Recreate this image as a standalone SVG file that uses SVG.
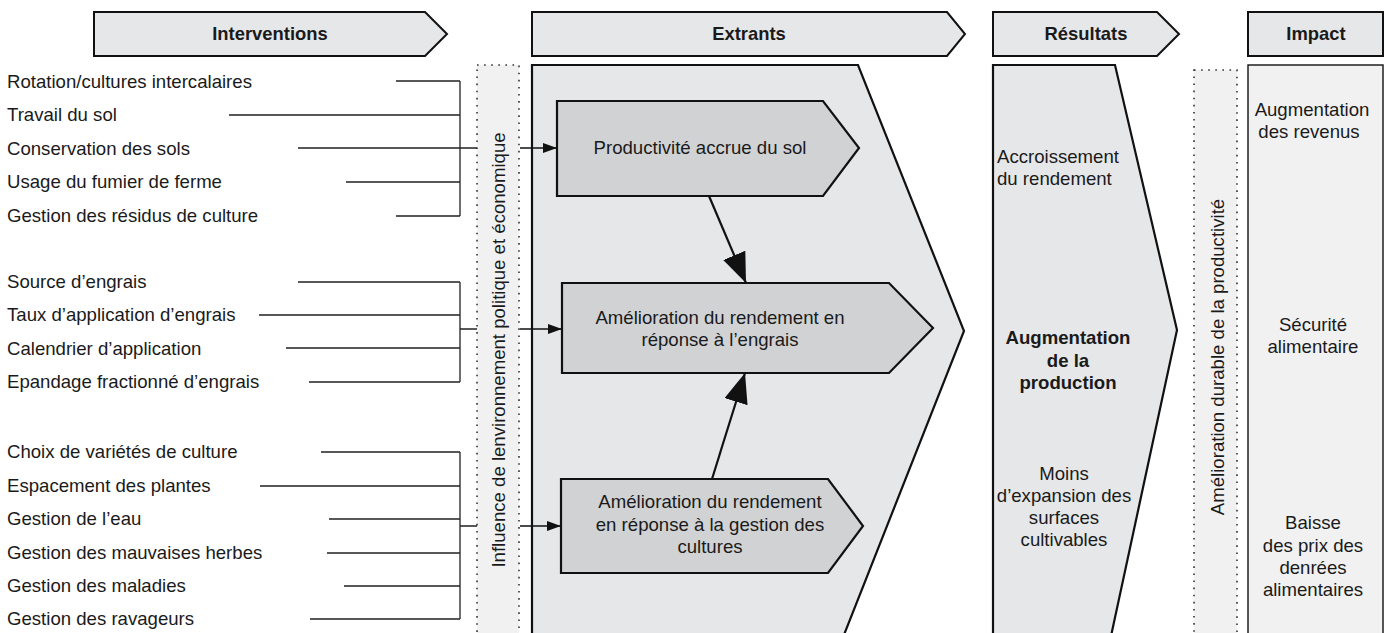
<svg xmlns="http://www.w3.org/2000/svg" width="1386" height="633" viewBox="0 0 1386 633">
<style>
text{font-family:"Liberation Sans",Arial,sans-serif;fill:#1a1a1a}
.t{font-size:18.6px}
.h{font-size:18.4px;font-weight:bold;text-anchor:middle}
.b{font-weight:bold}
.m{text-anchor:middle}
.hdr{fill:#e6e7e8;stroke:#111;stroke-width:2}
.big{fill:#e6e7e8;stroke:#111;stroke-width:2.2}
.box{fill:#d1d2d4;stroke:#111;stroke-width:2.2}
.dot{fill:#f1f1f2;stroke:#333;stroke-width:1.6;stroke-dasharray:1.6 5.5}
.imp{fill:#f1f1f2;stroke:#111;stroke-width:1.4}
.ln{fill:none;stroke:#222;stroke-width:1.3}
.ar{fill:none;stroke:#111;stroke-width:1.6}
.ab{fill:none;stroke:#111;stroke-width:2.2}
</style>
<defs>
<marker id="sm" markerUnits="userSpaceOnUse" markerWidth="14" markerHeight="10" refX="14" refY="5" orient="auto"><path d="M0,0 L14,5 L0,10 z" fill="#111"/></marker>
<marker id="bg" markerUnits="userSpaceOnUse" markerWidth="30" markerHeight="24" refX="30" refY="12" orient="auto"><path d="M0,0 L30,12 L0,24 z" fill="#111"/></marker>
</defs>

<g id="header-interventions"><polygon class="hdr" points="94,12 425,12 447,34 425,56 94,56"/><text class="h" x="270" y="40">Interventions</text></g>
<g id="header-extrants"><polygon class="hdr" points="532,12 947,12 965,34 947,56 532,56"/><text class="h" x="749" y="40">Extrants</text></g>
<g id="header-resultats"><polygon class="hdr" points="993,12 1157,12 1179,34 1157,56 993,56"/><text class="h" x="1086" y="40">Résultats</text></g>
<g id="header-impact"><rect class="hdr" x="1248" y="12" width="135" height="44"/><text class="h" x="1316" y="40">Impact</text></g>

<g id="extrants-panel"><polygon class="big" points="532,650 532,65 858,65 964,331 838,650"/></g>
<g id="resultats-panel"><polygon class="big" points="993,650 993,65 1115,65 1177,330 1108,650"/>
<text class="t" x="997" y="163">Accroissement</text>
<text class="t" x="997" y="185">du rendement</text>
<text class="t b m" x="1068" y="344">Augmentation</text>
<text class="t b m" x="1068" y="367">de la</text>
<text class="t b m" x="1068" y="389">production</text>
<text class="t m" x="1064" y="480">Moins</text>
<text class="t m" x="1064" y="502">d’expansion des</text>
<text class="t m" x="1064" y="524">surfaces</text>
<text class="t m" x="1064" y="546">cultivables</text>
</g>

<g id="influence-bar"><rect class="dot" x="477" y="65" width="42" height="600"/><text class="t m" transform="translate(505,350) rotate(-90)">Influence de lenvironnement politique et économique</text></g>
<g id="durable-bar"><rect class="dot" x="1194" y="70" width="43" height="600"/><text class="t m" transform="translate(1224,357) rotate(-90)">Amélioration durable de la productivité</text></g>

<g id="impact-panel"><rect class="imp" x="1248" y="65" width="135" height="600"/>
<text class="t m" x="1312" y="116">Augmentation</text>
<text class="t m" x="1309" y="138">des revenus</text>
<text class="t m" x="1313" y="331">Sécurité</text>
<text class="t m" x="1313" y="353">alimentaire</text>
<text class="t m" x="1313" y="529">Baisse</text>
<text class="t m" x="1313" y="552">des prix des</text>
<text class="t m" x="1313" y="574">denrées</text>
<text class="t m" x="1313" y="596">alimentaires</text>
</g>

<g id="box-productivite"><polygon class="box" points="557,101 823,101 859,148 823,196 557,196"/><text class="t m" x="700" y="154">Productivité accrue du sol</text></g>
<g id="box-engrais"><polygon class="box" points="562,283 889,283 933,328 889,373 562,373"/><text class="t m" x="720" y="324">Amélioration du rendement en</text><text class="t m" x="720" y="346">réponse à l’engrais</text></g>
<g id="box-gestion"><polygon class="box" points="561,479 828,479 863,526 828,573 561,573"/><text class="t m" x="710" y="508">Amélioration du rendement</text><text class="t m" x="710" y="531">en réponse à la gestion des</text><text class="t m" x="710" y="553">cultures</text></g>

<g id="labels-sol">
<text class="t" x="7" y="88">Rotation/cultures intercalaires</text>
<text class="t" x="7" y="121">Travail du sol</text>
<text class="t" x="7" y="155">Conservation des sols</text>
<text class="t" x="7" y="188">Usage du fumier de ferme</text>
<text class="t" x="7" y="222">Gestion des résidus de culture</text>
</g>
<g id="labels-engrais">
<text class="t" x="7" y="288">Source d’engrais</text>
<text class="t" x="7" y="321">Taux d’application d’engrais</text>
<text class="t" x="7" y="355">Calendrier d’application</text>
<text class="t" x="7" y="388">Epandage fractionné d’engrais</text>
</g>
<g id="labels-gestion">
<text class="t" x="7" y="458">Choix de variétés de culture</text>
<text class="t" x="7" y="492">Espacement des plantes</text>
<text class="t" x="7" y="525">Gestion de l’eau</text>
<text class="t" x="7" y="559">Gestion des mauvaises herbes</text>
<text class="t" x="7" y="592">Gestion des maladies</text>
<text class="t" x="7" y="625">Gestion des ravageurs</text>
</g>

<g id="connectors">
<path class="ln" d="M396,81H460M229,115H460M298,148H477M346,182H460M396,216H460M460,81V216"/>
<path class="ln" d="M298,282H460M259,315H460M286,348H460M309,382H460M460,282V382M460,329H477"/>
<path class="ln" d="M321,452H460M260,486H460M329,519H460M327,553H460M344,586H460M310,619H460M460,452V619M460,526H477"/>
<path class="ar" d="M520,148H557" marker-end="url(#sm)"/>
<path class="ar" d="M520,329H562" marker-end="url(#sm)"/>
<path class="ar" d="M520,526H561" marker-end="url(#sm)"/>
<path class="ab" d="M709,196L746,283" marker-end="url(#bg)"/>
<path class="ab" d="M712,479L745,373" marker-end="url(#bg)"/>
</g>
</svg>
